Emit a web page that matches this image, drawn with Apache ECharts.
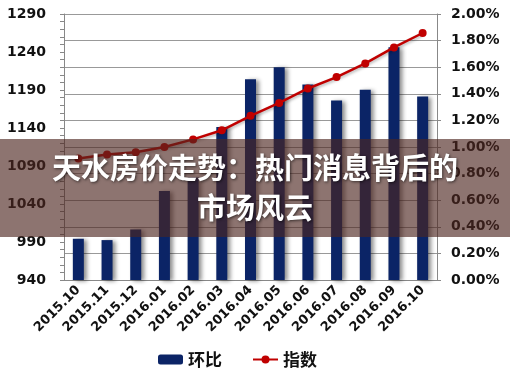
<!DOCTYPE html>
<html>
<head>
<meta charset="utf-8">
<script src="https://cdn.jsdelivr.net/npm/echarts@6/dist/echarts.min.js"></script>
<style>
html, body { margin: 0; padding: 0; background: #fff; }
#main { width: 510px; height: 376px; }
</style>
</head>
<body>
<div id="main"></div>
<script>
var months = ['2015.10', '2015.11', '2015.12', '2016.01', '2016.02', '2016.03', '2016.04',
    '2016.05', '2016.06', '2016.07', '2016.08', '2016.09', '2016.10'];
// 环比 (%), right axis
var huanbi = [0.31, 0.30, 0.38, 0.67, 0.77, 1.15, 1.51, 1.60, 1.47, 1.35, 1.43, 1.75, 1.38];
// 指数, left axis
var zhishu = [1100, 1105, 1108, 1115, 1125, 1137, 1156, 1173, 1192, 1207, 1225, 1246, 1265];
var titleLines = ['天水房价走势：热门消息背后的', '市场风云'];

var labelFont = { color: '#111', fontSize: 14, fontWeight: 'bold', fontFamily: 'DejaVu Sans' };

var myChart = echarts.init(document.getElementById('main'));
var option = {
    animation: false,
    backgroundColor: '#fff',
    grid: { left: 64, right: 73, top: 14, bottom: 96 },
    legend: {
        bottom: 3,
        left: 153,
        itemWidth: 25,
        itemHeight: 10,
        itemGap: 30,
        textStyle: { color: '#111', fontSize: 17, fontWeight: 'bold', fontFamily: 'Noto Sans CJK SC' },
        data: ['环比', '指数']
    },
    xAxis: {
        type: 'category',
        data: months,
        axisLine: { lineStyle: { color: '#888' } },
        axisTick: { lineStyle: { color: '#888' }, length: 5 },
        axisLabel: {
            rotate: 45,
            margin: 8,
            color: '#111',
            fontSize: 13,
            fontWeight: 'bold',
            fontFamily: 'DejaVu Sans'
        }
    },
    yAxis: [{
        type: 'value',
        min: 940,
        max: 1290,
        interval: 50,
        axisLine: { show: true, lineStyle: { color: '#888' } },
        axisTick: { show: true, length: 4, lineStyle: { color: '#888' } },
        minorTick: { show: true, splitNumber: 5, length: 4, lineStyle: { color: '#888' } },
        splitLine: { show: false },
        axisLabel: Object.assign({
            margin: 18,
            formatter: function(v) { return String(v); }
        }, labelFont)
    }, {
        type: 'value',
        min: 0,
        max: 0.02,
        interval: 0.002,
        axisLine: { show: true, lineStyle: { color: '#888' } },
        axisTick: { show: true, length: 4, lineStyle: { color: '#888' } },
        splitLine: { lineStyle: { color: '#999' } },
        axisLabel: Object.assign({
            margin: 14,
            formatter: function(v) { return (v * 100).toFixed(2) + '%'; }
        }, labelFont)
    }],
    series: [{
        name: '环比',
        type: 'bar',
        yAxisIndex: 1,
        barWidth: 11,
        itemStyle: {
            color: '#0b2466',
            shadowColor: 'rgba(0,0,0,0.45)',
            shadowBlur: 4,
            shadowOffsetX: 3,
            shadowOffsetY: 1
        },
        data: huanbi.map(function(v) { return v / 100; })
    }, {
        name: '指数',
        type: 'line',
        yAxisIndex: 0,
        symbol: 'circle',
        symbolSize: 8,
        lineStyle: { color: '#c00000', width: 2.5, shadowColor: 'rgba(0,0,0,0.3)', shadowBlur: 3, shadowOffsetY: 2 },
        itemStyle: { color: '#c00000' },
        data: zhishu
    }],
    graphic: [{
        type: 'rect',
        left: 0,
        top: 139,
        z: 100,
        shape: { width: 510, height: 98 },
        style: { fill: 'rgba(77,37,31,0.64)' }
    }, {
        type: 'text',
        left: 'center',
        top: 153,
        z: 101,
        style: {
            text: titleLines[0],
            fill: '#fff',
            font: 'bold 29px "Noto Sans CJK SC"',
            textShadowColor: 'rgba(0,0,0,0.6)',
            textShadowBlur: 3,
            textShadowOffsetX: 1,
            textShadowOffsetY: 1
        }
    }, {
        type: 'text',
        left: 'center',
        top: 193,
        z: 101,
        style: {
            text: titleLines[1],
            fill: '#fff',
            font: 'bold 29px "Noto Sans CJK SC"',
            textShadowColor: 'rgba(0,0,0,0.6)',
            textShadowBlur: 3,
            textShadowOffsetX: 1,
            textShadowOffsetY: 1
        }
    }]
};
myChart.setOption(option, true);
</script>
</body>
</html>
